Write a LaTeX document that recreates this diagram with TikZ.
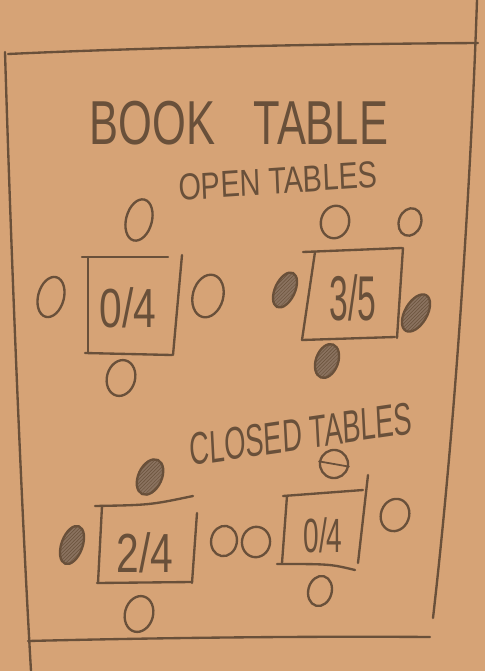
\documentclass[tikz,border=0pt]{standalone}
\usepackage{fontspec}
\setmainfont{Liberation Sans}
\usetikzlibrary{shapes.geometric, patterns}
\definecolor{paper}{RGB}{214,163,118}
\definecolor{pencil}{RGB}{105,80,58}
\definecolor{seat}{RGB}{138,114,95}

\begin{document}
\begin{tikzpicture}[x=0.03cm, y=-0.03cm,
    pen/.style={draw=pencil, line width=2pt, line cap=round},
    chair/.style={ellipse, draw=pencil, line width=2pt, inner sep=0pt, minimum width=22pt, minimum height=30pt},
    taken/.style={chair, fill=seat, postaction={pattern=north east lines, pattern color=pencil}},
    count/.style={text=pencil, inner sep=0pt, font=\fontsize{47}{47}\selectfont, xscale=.74},
    caption/.style={text=pencil, inner sep=0pt}]
    % Paper - background + frame
    \fill[paper] (0,0) rectangle (485,671);
    \useasboundingbox (0,0) rectangle (485,671);
    \draw[pen] (8,54) .. controls (160,47) and (330,44) .. (478,43);
    \draw[pen] (5,52) .. controls (11,250) and (21,500) .. (31,671);
    \draw[pen] (477,0) .. controls (472,150) and (458,400) .. (433,618);
    \draw[pen] (28,641) .. controls (150,638) and (300,636) .. (430,637);

    % Headings
    \node[caption, font=\fontsize{53}{53}\selectfont, xscale=.7] (title) at (239,123) {BOOK\hspace{.6em} TABLE};
    \node[caption, font=\fontsize{32}{32}\selectfont, xscale=.77, rotate=3] (open) at (278,181) {OPEN TABLES};
    \node[caption, font=\fontsize{39}{39}\selectfont, xscale=.6, rotate=5] (closed) at (301,434) {CLOSED TABLES};

    % Open table 1 - 0/4, all chairs free
    \node[count] (t1) at (128,308) {0/4};
    \draw[pen] (82,257) -- (168,257);
    \draw[pen] (88,257) -- (88,353);
    \draw[pen] (182,255) -- (173,355);
    \draw[pen] (85,353) -- (172,355);
    \node[chair, rotate=-15, minimum width=22pt, minimum height=36pt] (t1n) at (139,220) {};
    \node[chair, rotate=-15, minimum width=22pt, minimum height=35pt] (t1w) at (51,297) {};
    \node[chair, rotate=-15, minimum width=26pt, minimum height=37pt] (t1e) at (208,296) {};
    \node[chair, rotate=-15, minimum width=24pt, minimum height=31pt] (t1s) at (121,378) {};

    % Open table 2 - 3/5, three chairs taken
    \node[count, font=\fontsize{54}{54}\selectfont, xscale=.72] (t2) at (353,298) {3/5};
    \draw[pen] (303,252) -- (402,248);
    \draw[pen] (315,252) -- (302,340);
    \draw[pen] (302,340) -- (395,337);
    \draw[pen] (403,248) -- (397,338);
    \node[chair, rotate=-15, minimum width=24pt, minimum height=28pt] (t2n) at (335,222) {};
    \node[chair, rotate=-20, minimum width=19pt, minimum height=24pt] (t2ne) at (410,222) {};
    \node[taken, rotate=-25, minimum width=17pt, minimum height=32pt] (t2w) at (285,290) {};
    \node[taken, rotate=-30, minimum width=19pt, minimum height=35pt] (t2e) at (416,313) {};
    \node[taken, rotate=-20, minimum width=19pt, minimum height=30pt] (t2s) at (327,361) {};

    % Closed table 1 - 2/4
    \node[count] (c1) at (145,553) {2/4};
    \draw[pen] (95,506) .. controls (150,505) .. (193,496);
    \draw[pen] (102,506) -- (98,583);
    \draw[pen] (97,583) -- (192,582);
    \draw[pen] (197,513) -- (192,583);
    \node[taken, rotate=-25, minimum width=20pt, minimum height=32pt] (c1n) at (150,477) {};
    \node[taken, rotate=-20, minimum width=18pt, minimum height=34pt] (c1w) at (72,545) {};
    \node[chair, rotate=-15, minimum width=24pt, minimum height=31pt] (c1s) at (139,614) {};
    \node[chair, rotate=-10, minimum width=22pt, minimum height=26pt] (c1e) at (224,541) {};

    % Closed table 2 - 0/4
    \node[count, font=\fontsize{41}{41}\selectfont, xscale=.79] (c2) at (323,535) {0/4};
    \draw[pen] (283,496) -- (363,490);
    \draw[pen] (287,496) -- (282,563);
    \draw[pen] (368,475) -- (358,563);
    \draw[pen] (277,564) .. controls (330,564) .. (355,570);
    \node[chair, rotate=-10, minimum width=24pt, minimum height=24pt] (c2n) at (334,464) {};
    \draw[pen, line width=1.5pt] (c2n.west) -- (c2n.east);
    \node[chair, rotate=-20, minimum width=24pt, minimum height=28pt] (c2e) at (395,515) {};
    \node[chair, rotate=-15, minimum width=20pt, minimum height=26pt] (c2s) at (320,591) {};
    \node[chair, rotate=-10, minimum width=24pt, minimum height=26pt] (c2w) at (256,542) {};
\end{tikzpicture}
\end{document}
